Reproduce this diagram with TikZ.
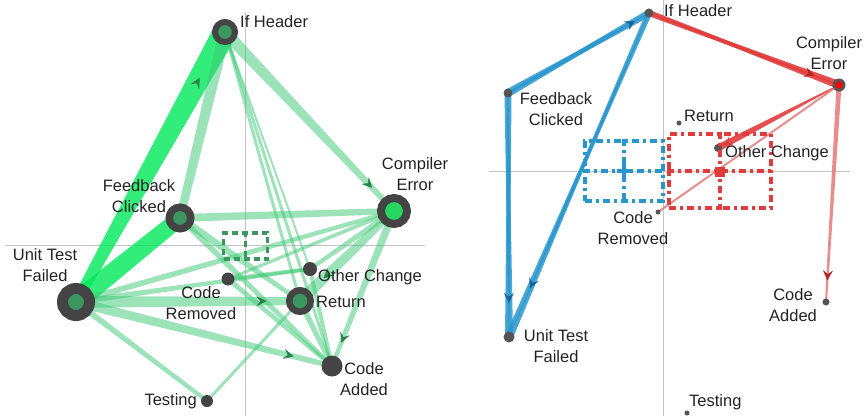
\documentclass[tikz,border=0pt]{standalone}
\usepackage{fontspec}
\setmainfont{Liberation Sans}
\usetikzlibrary{calc,decorations.markings,arrows.meta}
\definecolor{dk}{RGB}{68,68,68}
\definecolor{gin}{RGB}{60,150,95}
\definecolor{gbright}{RGB}{40,215,95}
\definecolor{grn}{RGB}{60,200,115}
\definecolor{gvivid}{RGB}{0,232,90}
\definecolor{garrow}{RGB}{40,130,75}
\definecolor{blu}{RGB}{40,150,205}
\definecolor{bluarrow}{RGB}{25,100,150}
\definecolor{rd}{RGB}{225,60,60}
\definecolor{rdlight}{RGB}{228,120,120}
\definecolor{rdarrow}{RGB}{180,35,35}
\definecolor{axis}{RGB}{195,195,195}
\definecolor{txt}{RGB}{35,35,35}
\definecolor{dotgray}{RGB}{85,85,85}
\pgfdeclarelayer{bg}
\pgfsetlayers{bg,main}
\newcommand\tedge[5]{\fill[#1] ($(#2.center)!#4!90:(#3.center)$) -- ($(#3.center)!#5!-90:(#2.center)$) -- ($(#3.center)!#5!90:(#2.center)$) -- ($(#2.center)!#4!-90:(#3.center)$) -- cycle;}
\newcommand\midarrow[4]{\path[opacity=0.55,decorate,decoration={markings,mark=at position #4 with {\arrow{Stealth[length=10pt,width=10pt,inset=4pt,color=#1]}}}] (#2.center) -- (#3.center);}
\begin{document}
\begin{tikzpicture}[x=1pt,y=-1pt,
  font=\fontsize{16.5}{20.5}\selectfont,
  lbl/.style={inner sep=0pt,text=txt,align=center},
  ring/.style n args={3}{circle,inner sep=0pt,minimum size=#1,line width=#2,draw=dk,fill=#3},
  sdot/.style={circle,inner sep=0pt,minimum size=#1,fill=dk},
  rdot/.style={circle,inner sep=0pt,minimum size=#1,fill=dotgray},
  ge/.style={fill=grn,fill opacity=0.5},
  gv/.style={fill=gvivid,fill opacity=0.8},
  be/.style={fill=blu,fill opacity=0.85},
  re/.style={fill=rd,fill opacity=0.9},
  rl/.style={fill=rdlight,fill opacity=0.85},
  axisline/.style={draw=axis,line width=1pt},
  gbox/.style={draw=gin,line width=3.5pt,dash pattern=on 6pt off 4pt},
  bbox/.style={draw=blu,line width=4.5pt,dash pattern=on 7pt off 4pt on 3pt off 4pt},
  rbox/.style={draw=rd,line width=4.5pt,dash pattern=on 7pt off 4pt on 3pt off 4pt}]
\useasboundingbox (0,0) rectangle (864,416);

% ---------- Left panel nodes ----------
\node[ring={20pt}{6pt}{gin}] (Lif) at (225,32) {};
\node[ring={26pt}{8pt}{gbright}] (Lce) at (394,211) {};
\node[ring={21.5pt}{7.5pt}{gin}] (Lfb) at (180,218) {};
\node[ring={27pt}{11pt}{gin}] (Lut) at (76,302) {};
\node[ring={21.5pt}{6.5pt}{gin}] (Lret) at (300,301) {};
\node[sdot=21pt] (Lca) at (332,366) {};
\node[sdot=14pt] (Loc) at (310,269) {};
\node[sdot=13pt] (Lcr) at (228,279) {};
\node[sdot=12pt] (Ltest) at (207,401) {};

% ---------- Right panel nodes ----------
\node[rdot=9pt] (Rif) at (649,13) {};
\node[rdot=13pt] (Rce) at (839,85) {};
\node[circle,inner sep=0pt,minimum size=7.5pt,fill=red] (Rcein) at (839,85) {};
\node[rdot=9pt] (Rfb) at (508,93) {};
\node[rdot=5pt] (Rret) at (679,123) {};
\node[rdot=8pt] (Roc) at (718,148) {};
\node[rdot=5pt] (Rcr) at (658,212) {};
\node[rdot=7pt] (Rca) at (826,302) {};
\node[rdot=11pt] (Rut) at (509,337) {};
\node[rdot=5pt] (Rtest) at (687,413) {};

\begin{pgfonlayer}{bg}
% axes
\draw[axisline] (245,12) -- (245,416);
\draw[axisline] (5,245) -- (425,245);
\draw[axisline] (663,0) -- (663,416);
\draw[axisline] (489,171) -- (850,171);

% ---------- Left edges ----------
\tedge{gv}{Lut}{Lif}{5pt}{12pt}
\tedge{ge}{Lfb}{Lif}{4pt}{6pt}
\tedge{gv}{Lut}{Lfb}{10pt}{8pt}
\tedge{ge}{Lif}{Lce}{6pt}{2.5pt}
\tedge{ge}{Lif}{Lret}{1.5pt}{1.5pt}
\tedge{ge}{Lif}{Lca}{1.5pt}{1.5pt}
\tedge{ge}{Lif}{Loc}{1pt}{1pt}
\tedge{ge}{Lfb}{Lce}{4pt}{3pt}
\tedge{ge}{Lfb}{Lret}{4pt}{2pt}
\tedge{ge}{Lfb}{Lca}{3pt}{2pt}
\tedge{ge}{Lut}{Lce}{3pt}{2pt}
\tedge{ge}{Lut}{Lret}{6pt}{4pt}
\tedge{ge}{Lut}{Lca}{5pt}{2.5pt}
\tedge{ge}{Lut}{Ltest}{3pt}{2pt}
\tedge{ge}{Lut}{Loc}{3pt}{1.5pt}
\tedge{ge}{Ltest}{Lret}{1.5pt}{1.5pt}
\tedge{ge}{Lce}{Lret}{3pt}{6pt}
\tedge{ge}{Lce}{Lca}{4pt}{2pt}
\tedge{ge}{Lce}{Loc}{3pt}{2pt}
\tedge{ge}{Lce}{Lcr}{2pt}{1.5pt}
\tedge{ge}{Lcr}{Lca}{2.5pt}{2pt}
\tedge{ge}{Lret}{Lca}{3pt}{2pt}
\tedge{ge}{Loc}{Lca}{2pt}{2pt}
\tedge{ge}{Lcr}{Loc}{2pt}{2pt}
\midarrow{garrow}{Lut}{Lif}{0.83}
\midarrow{garrow}{Lif}{Lce}{0.87}
\midarrow{garrow}{Lut}{Lret}{0.85}
\midarrow{garrow}{Lut}{Lca}{0.85}
\midarrow{garrow}{Lce}{Lca}{0.85}
\midarrow{garrow}{Lce}{Lret}{0.75}

% ---------- Right edges ----------
\tedge{be}{Rif}{Rfb}{3.5pt}{1pt}
\tedge{be}{Rfb}{Rif}{4pt}{0.5pt}
\tedge{be}{Rfb}{Rut}{3.5pt}{0.5pt}
\tedge{be}{Rut}{Rfb}{4pt}{0.5pt}
\tedge{be}{Rut}{Rif}{4pt}{0.3pt}
\tedge{be}{Rif}{Rut}{3pt}{0.3pt}
\tedge{re}{Rif}{Rce}{3pt}{0.5pt}
\tedge{re}{Rce}{Rif}{4pt}{0.5pt}
\tedge{re}{Rce}{Roc}{0.5pt}{3.5pt}
\tedge{rl}{Rce}{Rcr}{1pt}{1pt}
\tedge{rl}{Rce}{Rca}{2.5pt}{1pt}
\midarrow{bluarrow}{Rif}{Rut}{0.85}
\midarrow{bluarrow}{Rfb}{Rut}{0.86}
\midarrow{bluarrow}{Rfb}{Rif}{0.9}
\midarrow{rdarrow}{Rif}{Rce}{0.87}
\midarrow{rd}{Rce}{Roc}{0.96}
\midarrow{rdarrow}{Rce}{Rca}{0.9}
\end{pgfonlayer}

% ---------- dashed boxes ----------
\node[gbox,inner sep=0pt,minimum width=44pt,minimum height=26pt] (Lbox) at (245.5,246) {};
\draw[gbox] (Lbox.north) -- (Lbox.south);
\node[bbox,inner sep=0pt,minimum width=78pt,minimum height=60pt] (Rbbox) at (624,171) {};
\draw[bbox] (Rbbox.north) -- (Rbbox.south);
\draw[bbox] (Rbbox.west) -- (Rbbox.east);
\node[inner sep=0pt] (Rbplus) at (624,171) {};
\draw[draw=blu,line width=4.5pt] ($(Rbplus)+(-7,0)$) -- ($(Rbplus)+(7,0)$);
\draw[draw=blu,line width=4.5pt] ($(Rbplus)+(0,-7)$) -- ($(Rbplus)+(0,7)$);
\node[rbox,inner sep=0pt,minimum width=102pt,minimum height=74pt] (Rrbox) at (720,171) {};
\draw[rbox] (Rrbox.north) -- (Rrbox.south);
\draw[rbox] (Rrbox.west) -- (Rrbox.east);
\node[fill=rd,inner sep=0pt,minimum size=10pt] (Rrsq) at (720,172) {};

% ---------- Left labels ----------
\node[lbl,anchor=west] (tLif) at (240,22) {If Header};
\node[lbl] (tLce) at (415,174) {Compiler\\Error};
\node[lbl] (tLfb) at (139,196) {Feedback\\Clicked};
\node[lbl] (tLut) at (45,265) {Unit Test\\Failed};
\node[lbl] (tLcr) at (201,303) {Code\\Removed};
\node[lbl,anchor=west] (tLoc) at (318,277) {Other Change};
\node[lbl,anchor=west] (tLret) at (316,302) {Return};
\node[lbl] (tLca) at (364,379) {Code\\Added};
\node[lbl,anchor=east] (tLtest) at (197,401) {Testing};

% ---------- Right labels ----------
\node[lbl,anchor=west] (tRif) at (664,11) {If Header};
\node[lbl] (tRce) at (829,53) {Compiler\\Error};
\node[lbl] (tRfb) at (556,109) {Feedback\\Clicked};
\node[lbl,anchor=west] (tRret) at (684,116) {Return};
\node[lbl,anchor=west] (tRoc) at (725,153) {Other Change};
\node[lbl] (tRcr) at (633,228) {Code\\Removed};
\node[lbl] (tRca) at (793,305) {Code\\Added};
\node[lbl] (tRut) at (556,346) {Unit Test\\Failed};
\node[lbl,anchor=west] (tRtest) at (689,402) {Testing};
\end{tikzpicture}
\end{document}
